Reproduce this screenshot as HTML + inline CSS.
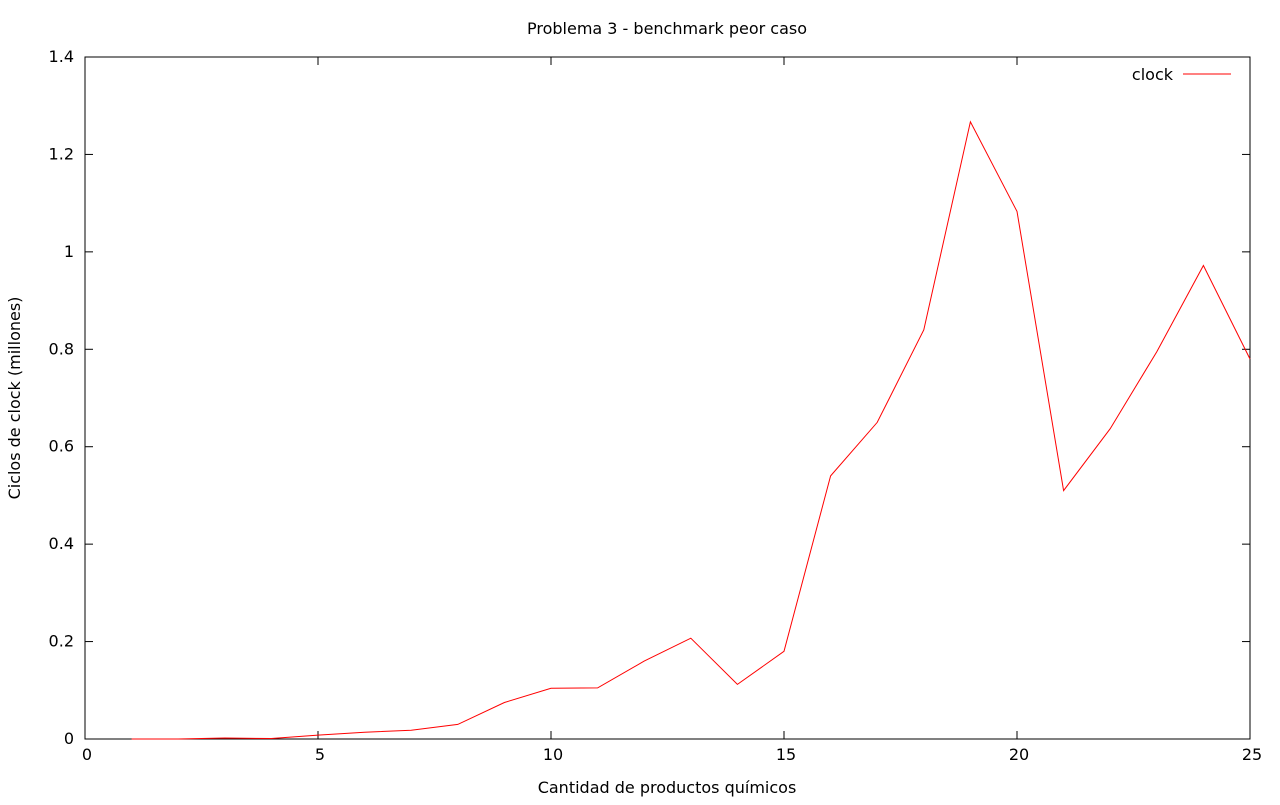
<!DOCTYPE html>
<html><head><meta charset="utf-8"><style>
html,body{margin:0;padding:0;background:#fff;}
svg text{font-family:"DejaVu Sans","Liberation Sans",sans-serif;font-size:16px;fill:#000;}
</style></head><body>
<svg id="chart" width="1280" height="800" xmlns="http://www.w3.org/2000/svg"></svg>
<script>
const xValues = [1,2,3,4,5,6,7,8,9,10,11,12,13,14,15,16,17,18,19,20,21,22,23,24,25];
const clockValues = [0,0,0.002,0.001,0.008,0.014,0.018,0.03,0.075,0.104,0.105,0.16,0.207,0.112,0.18,0.54,0.65,0.84,1.267,1.083,0.51,0.637,0.795,0.972,0.78];
const xTicks = [0,5,10,15,20,25];
const yTicks = [0,0.2,0.4,0.6,0.8,1,1.2,1.4];
const yTickLabels = ["0","0.2","0.4","0.6","0.8","1","1.2","1.4"];

const L=85,R=1250,T=57,B=739;
const sx=v=>L+(v-0)/(25-0)*(R-L);
const sy=v=>B-(v-0)/(1.4-0)*(B-T);
const svg=document.getElementById('chart');
const NS='http://www.w3.org/2000/svg';
function mk(tag,attrs,parent){const e=document.createElementNS(NS,tag);for(const k in attrs)e.setAttribute(k,attrs[k]);(parent||svg).appendChild(e);return e;}

const frame=mk('rect',{x:L,y:T,width:R-L,height:B-T,fill:'none',stroke:'#000','stroke-width':1});



xTicks.forEach(t=>{
  const x=sx(t);
  const g=mk('g',{});
  
  
  mk('line',{x1:x,x2:x,y1:B,y2:B-8,stroke:'#000'},g);
  mk('line',{x1:x,x2:x,y1:T,y2:T+8,stroke:'#000'},g);
  const tx=mk('text',{x:x+2,y:B+21,'text-anchor':'middle'},g);tx.textContent=t;
});
yTicks.forEach((t,i)=>{
  const y=sy(t);
  const g=mk('g',{});
  
  
  mk('line',{x1:L,x2:L+8,y1:y,y2:y,stroke:'#000'},g);
  mk('line',{x1:R,x2:R-8,y1:y,y2:y,stroke:'#000'},g);
  const tx=mk('text',{x:L-11,y:y+5,'text-anchor':'end'},g);tx.textContent=yTickLabels[i];
});

const pts=xValues.map((x,i)=>sx(x).toFixed(1)+','+sy(clockValues[i]).toFixed(1)).join(' ');
const line=mk('polyline',{points:pts,fill:'none',stroke:'#ff0000','stroke-width':1});



const title=mk('text',{x:667,y:34,'text-anchor':'middle'});
title.textContent='Problema 3 - benchmark peor caso';



const xt=mk('text',{x:667,y:793,'text-anchor':'middle'});
xt.textContent='Cantidad de productos químicos';



const yt=mk('text',{x:0,y:0,'text-anchor':'middle',transform:'translate(20,398) rotate(-90)'});
yt.textContent='Ciclos de clock (millones)';



const lg=mk('g',{});


const lt=mk('text',{x:1173,y:80,'text-anchor':'end'},lg);lt.textContent='clock';
mk('line',{x1:1183,x2:1231,y1:74,y2:74,stroke:'#ff0000'},lg);
</script>
</body></html>
